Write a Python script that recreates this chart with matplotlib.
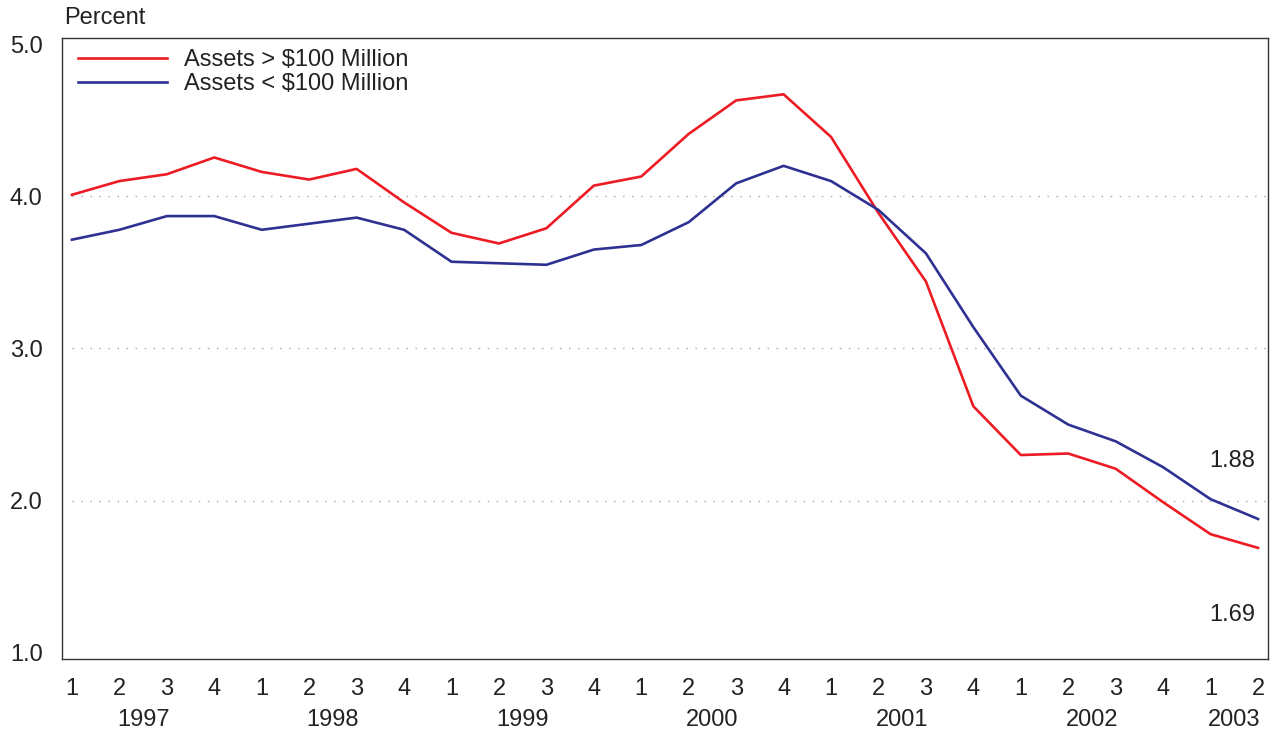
import matplotlib
matplotlib.use("Agg")
import matplotlib.pyplot as plt
import numpy as np

plt.rcParams['font.family'] = ['Liberation Sans', 'DejaVu Sans']

quarters = ["1", "2", "3", "4"] * 6 + ["1", "2"]
years = ["1997", "1998", "1999", "2000", "2001", "2002", "2003"]

large_banks = [4.01, 4.10, 4.145, 4.255, 4.16, 4.11, 4.18, 3.96,
               3.76, 3.69, 3.79, 4.07, 4.13, 4.41, 4.63, 4.67,
               4.39, 3.89, 3.44, 2.62, 2.30, 2.31, 2.21, 1.99,
               1.78, 1.69]
small_banks = [3.715, 3.78, 3.87, 3.87, 3.78, 3.82, 3.86, 3.78,
               3.57, 3.56, 3.55, 3.65, 3.68, 3.83, 4.085, 4.20,
               4.10, 3.91, 3.625, 3.14, 2.69, 2.50, 2.39, 2.22,
               2.01, 1.88]

label_large = "Assets > $100 Million"
label_small = "Assets < $100 Million"
red = "#ED1C24"
blue = "#2E3192"
txt = "#222222"
fs = 17

W, H = 1273, 732
fig = plt.figure(figsize=(W / 100, H / 100), dpi=100)
ax = fig.add_axes([62 / W, 1 - 659 / H, (1268 - 62) / W, (659 - 38) / H])

x = np.arange(len(large_banks))
ax.plot(x, large_banks, color=red, lw=1.9, label=label_large, solid_joinstyle='round')
ax.plot(x, small_banks, color=blue, lw=1.9, label=label_small, solid_joinstyle='round')

ax.set_xlim(-0.21, len(x) - 1 + 0.21)
ax.set_ylim(0.96, 5.04)

for g in [2.0, 3.0, 4.0]:
    ax.axhline(g, xmin=0.008, xmax=1, color="#aaaaaa", lw=1.0,
               linestyle=(0, (1, 5.5)), zorder=0)

ax.set_yticks([1.0, 2.0, 3.0, 4.0, 5.0])
ax.set_yticklabels(["1.0", "2.0", "3.0", "4.0", "5.0"])
ax.tick_params(axis='y', length=0, pad=14, labelsize=fs, labelcolor=txt)
ax.set_xticks(x)
ax.set_xticklabels(quarters)
ax.tick_params(axis='x', length=0, pad=14, labelsize=fs, labelcolor=txt)

for i, yr in enumerate(years):
    xc = 4 * i + 1.5 if i < 6 else 24.5
    ax.annotate(yr, xy=(xc, 0), xycoords=('data', 'figure fraction'),
                xytext=(xc, 1 - 720 / H), textcoords=('data', 'figure fraction'),
                ha='center', va='center', fontsize=fs, color=txt)

for s in ax.spines.values():
    s.set_color("#333333")
    s.set_linewidth(1.0)

fig.text(64 / W, 1 - 18 / H, "Percent", ha='left', va='center', fontsize=fs, color=txt)

ax.annotate("1.88", xy=(x[-1], small_banks[-1]), xytext=(-2, 42), textcoords='offset points',
            ha='right', va='center', fontsize=fs, color=txt)
ax.annotate("1.69", xy=(x[-1], large_banks[-1]), xytext=(-2, -48), textcoords='offset points',
            ha='right', va='center', fontsize=fs, color=txt)

leg = ax.legend(loc='upper left', bbox_to_anchor=(3 / 1206, 1 + 2 / 621), frameon=False,
                fontsize=fs, handlelength=3.75, handletextpad=0.75, labelspacing=0.1,
                borderaxespad=0.15)
for t in leg.get_texts():
    t.set_color(txt)

fig.savefig("out.png", dpi=100)
